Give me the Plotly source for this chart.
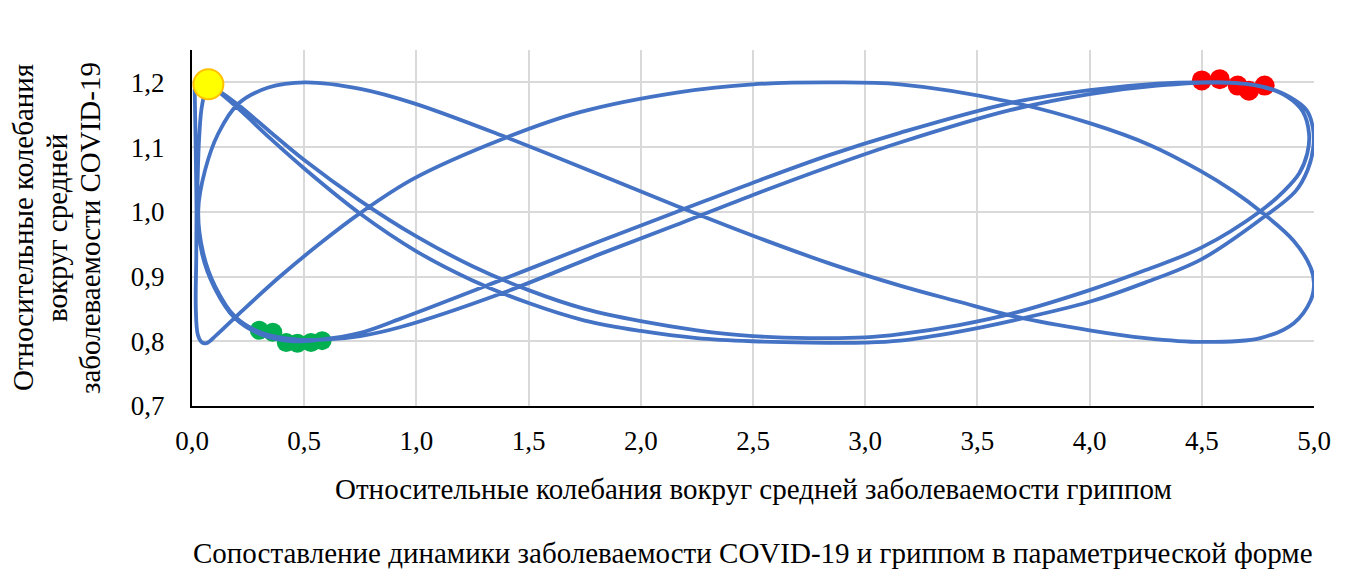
import plotly.graph_objects as go

# passes of the parametric curve
# x - flu relative fluctuations, y - COVID-19 relative fluctuations
start_x = [0.012, 0.015, 0.018, 0.020, 0.019, 0.017, 0.026, 0.042, 0.065]
start_y = [1.190, 1.130, 1.060, 1.000, 0.930, 0.850, 0.810, 0.799, 0.797]

rise1_x = [0.110, 0.214, 0.392, 0.570, 0.749, 0.986, 1.387, 1.729, 2.175, 2.500, 2.843,
           3.155, 3.645, 4.000, 4.270, 4.490, 4.640, 4.761, 4.910, 4.985, 5.000]
rise1_y = [0.810, 0.844, 0.900, 0.951, 0.998, 1.051, 1.113, 1.154, 1.185, 1.197, 1.200,
           1.197, 1.170, 1.137, 1.103, 1.064, 1.032, 1.001, 0.955, 0.914, 0.889]

back1_x = [4.985, 4.910, 4.761, 4.500, 4.250, 4.000, 3.657, 3.418, 3.155, 2.843, 2.500,
           2.175, 1.820, 1.387, 0.986, 0.750, 0.504]
back1_y = [0.863, 0.828, 0.805, 0.799, 0.805, 0.817, 0.839, 0.861, 0.886, 0.920, 0.963,
           1.007, 1.057, 1.117, 1.168, 1.190, 1.200]

arc1_x = [0.340, 0.206, 0.117, 0.058, 0.028, 0.050, 0.103, 0.192, 0.310, 0.459]
arc1_y = [1.192, 1.167, 1.121, 1.064, 1.003, 0.936, 0.885, 0.838, 0.813, 0.803]

rise2_x = [0.607, 0.750, 0.930, 1.387, 1.820, 2.175, 2.500, 2.843, 3.155, 3.645, 4.000,
           4.300, 4.600, 4.770, 4.880, 4.950, 4.978, 4.970, 4.935, 4.866]
rise2_y = [0.803, 0.808, 0.822, 0.875, 0.935, 0.982, 1.026, 1.070, 1.107, 1.157, 1.182,
           1.195, 1.200, 1.193, 1.178, 1.155, 1.120, 1.090, 1.060, 1.032]

back2_x = [4.761, 4.500, 4.250, 4.000, 3.657, 3.418, 3.155, 3.000, 2.750, 2.500, 2.250,
           2.000, 1.750, 1.500, 1.250, 1.000, 0.750, 0.500, 0.350, 0.214, 0.120, 0.073]
back2_y = [1.001, 0.945, 0.910, 0.879, 0.843, 0.825, 0.811, 0.806, 0.805, 0.808, 0.817,
           0.831, 0.850, 0.879, 0.916, 0.962, 1.017, 1.080, 1.123, 1.163, 1.187, 1.197]

arc2_x = [0.045, 0.032, 0.026, 0.024, 0.045, 0.100, 0.190, 0.310, 0.450]
arc2_y = [1.165, 1.115, 1.060, 1.000, 0.935, 0.883, 0.836, 0.810, 0.800]

rise3_x = [0.560, 0.750, 0.930, 1.387, 1.820, 2.175, 2.500, 2.843, 3.155, 3.645, 4.000,
           4.300, 4.500, 4.715, 4.789, 4.893, 4.967, 4.995, 4.997, 4.972, 4.918]
rise3_y = [0.802, 0.813, 0.835, 0.896, 0.955, 1.002, 1.045, 1.088, 1.122, 1.168, 1.188,
           1.198, 1.200, 1.197, 1.192, 1.177, 1.157, 1.130, 1.100, 1.065, 1.032]

back3_x = [4.761, 4.500, 4.250, 4.000, 3.657, 3.418, 3.155, 3.000, 2.750, 2.500, 2.250,
           2.000, 1.750, 1.500, 1.250, 1.000, 0.750, 0.500, 0.350, 0.214, 0.120, 0.073]
back3_y = [0.988, 0.927, 0.891, 0.861, 0.832, 0.815, 0.801, 0.798, 0.798, 0.800, 0.805,
           0.816, 0.832, 0.859, 0.894, 0.939, 0.997, 1.067, 1.113, 1.157, 1.185, 1.197]

flu = start_x + rise1_x + back1_x + arc1_x + rise2_x + back2_x + arc2_x + rise3_x + back3_x
covid = start_y + rise1_y + back1_y + arc1_y + rise2_y + back2_y + arc2_y + rise3_y + back3_y

# highlighted periods
green_x = [0.30, 0.36, 0.42, 0.47, 0.53, 0.58]
green_y = [0.817, 0.814, 0.798, 0.797, 0.798, 0.801]
red_x = [4.50, 4.58, 4.66, 4.71, 4.78]
red_y = [1.203, 1.205, 1.195, 1.187, 1.195]
last_x = [0.073]
last_y = [1.197]

y_title = ["Относительные колебания", "вокруг средней", "заболеваемости COVID-19"]
x_title = "Относительные колебания вокруг средней заболеваемости гриппом"
caption = "Сопоставление динамики заболеваемости COVID-19 и гриппом в параметрической форме"

tick_font = dict(family="Liberation Serif", size=27, color="black")
title_font = dict(family="Liberation Serif", size=29, color="black")

fig = go.Figure()
fig.add_trace(go.Scatter(x=green_x, y=green_y, mode="markers",
                         marker=dict(size=19, color="#00B050")))
fig.add_trace(go.Scatter(x=red_x, y=red_y, mode="markers",
                         marker=dict(size=20, color="#FF0000")))
fig.add_trace(go.Scatter(x=flu, y=covid, mode="lines",
                         line=dict(color="#4472C4", width=3.8, shape="spline", smoothing=1)))
fig.add_trace(go.Scatter(x=last_x, y=last_y, mode="markers",
                         marker=dict(size=30, color="#FFFF00",
                                     line=dict(color="#FFC000", width=2))))

annotations = []
for text, shift in zip(y_title, [-169, -135, -102]):
    annotations.append(dict(text=text, textangle=-90, xref="paper", yref="paper",
                            x=0, y=0.5, xshift=shift, xanchor="center", yanchor="middle",
                            showarrow=False, font=title_font))
annotations.append(dict(text=x_title, xref="paper", yref="paper", x=0.5, y=0, yshift=-83,
                        xanchor="center", yanchor="middle", showarrow=False, font=title_font))
annotations.append(dict(text=caption, xref="paper", yref="paper", x=0.5, y=0, yshift=-147,
                        xanchor="center", yanchor="middle", showarrow=False, font=title_font))

fig.update_layout(
    width=1344, height=569,
    margin=dict(l=184, r=38, t=42, b=171),
    paper_bgcolor="white", plot_bgcolor="white",
    showlegend=False,
    separators=", ",
    xaxis=dict(range=[0, 5], dtick=0.5, tick0=0, tickformat=".1f",
               showgrid=True, gridcolor="#D9D9D9", gridwidth=1.5,
               showline=True, linecolor="black", linewidth=2,
               zeroline=False, ticks="", ticklabelstandoff=10,
               tickfont=tick_font),
    yaxis=dict(range=[0.7, 1.25], dtick=0.1, tick0=0.7, tickformat=".1f",
               showgrid=True, gridcolor="#D9D9D9", gridwidth=1.5,
               showline=True, linecolor="black", linewidth=2,
               zeroline=False, ticks="", ticklabelstandoff=20,
               tickfont=tick_font),
    annotations=annotations,
)

fig.write_html("out.html")
